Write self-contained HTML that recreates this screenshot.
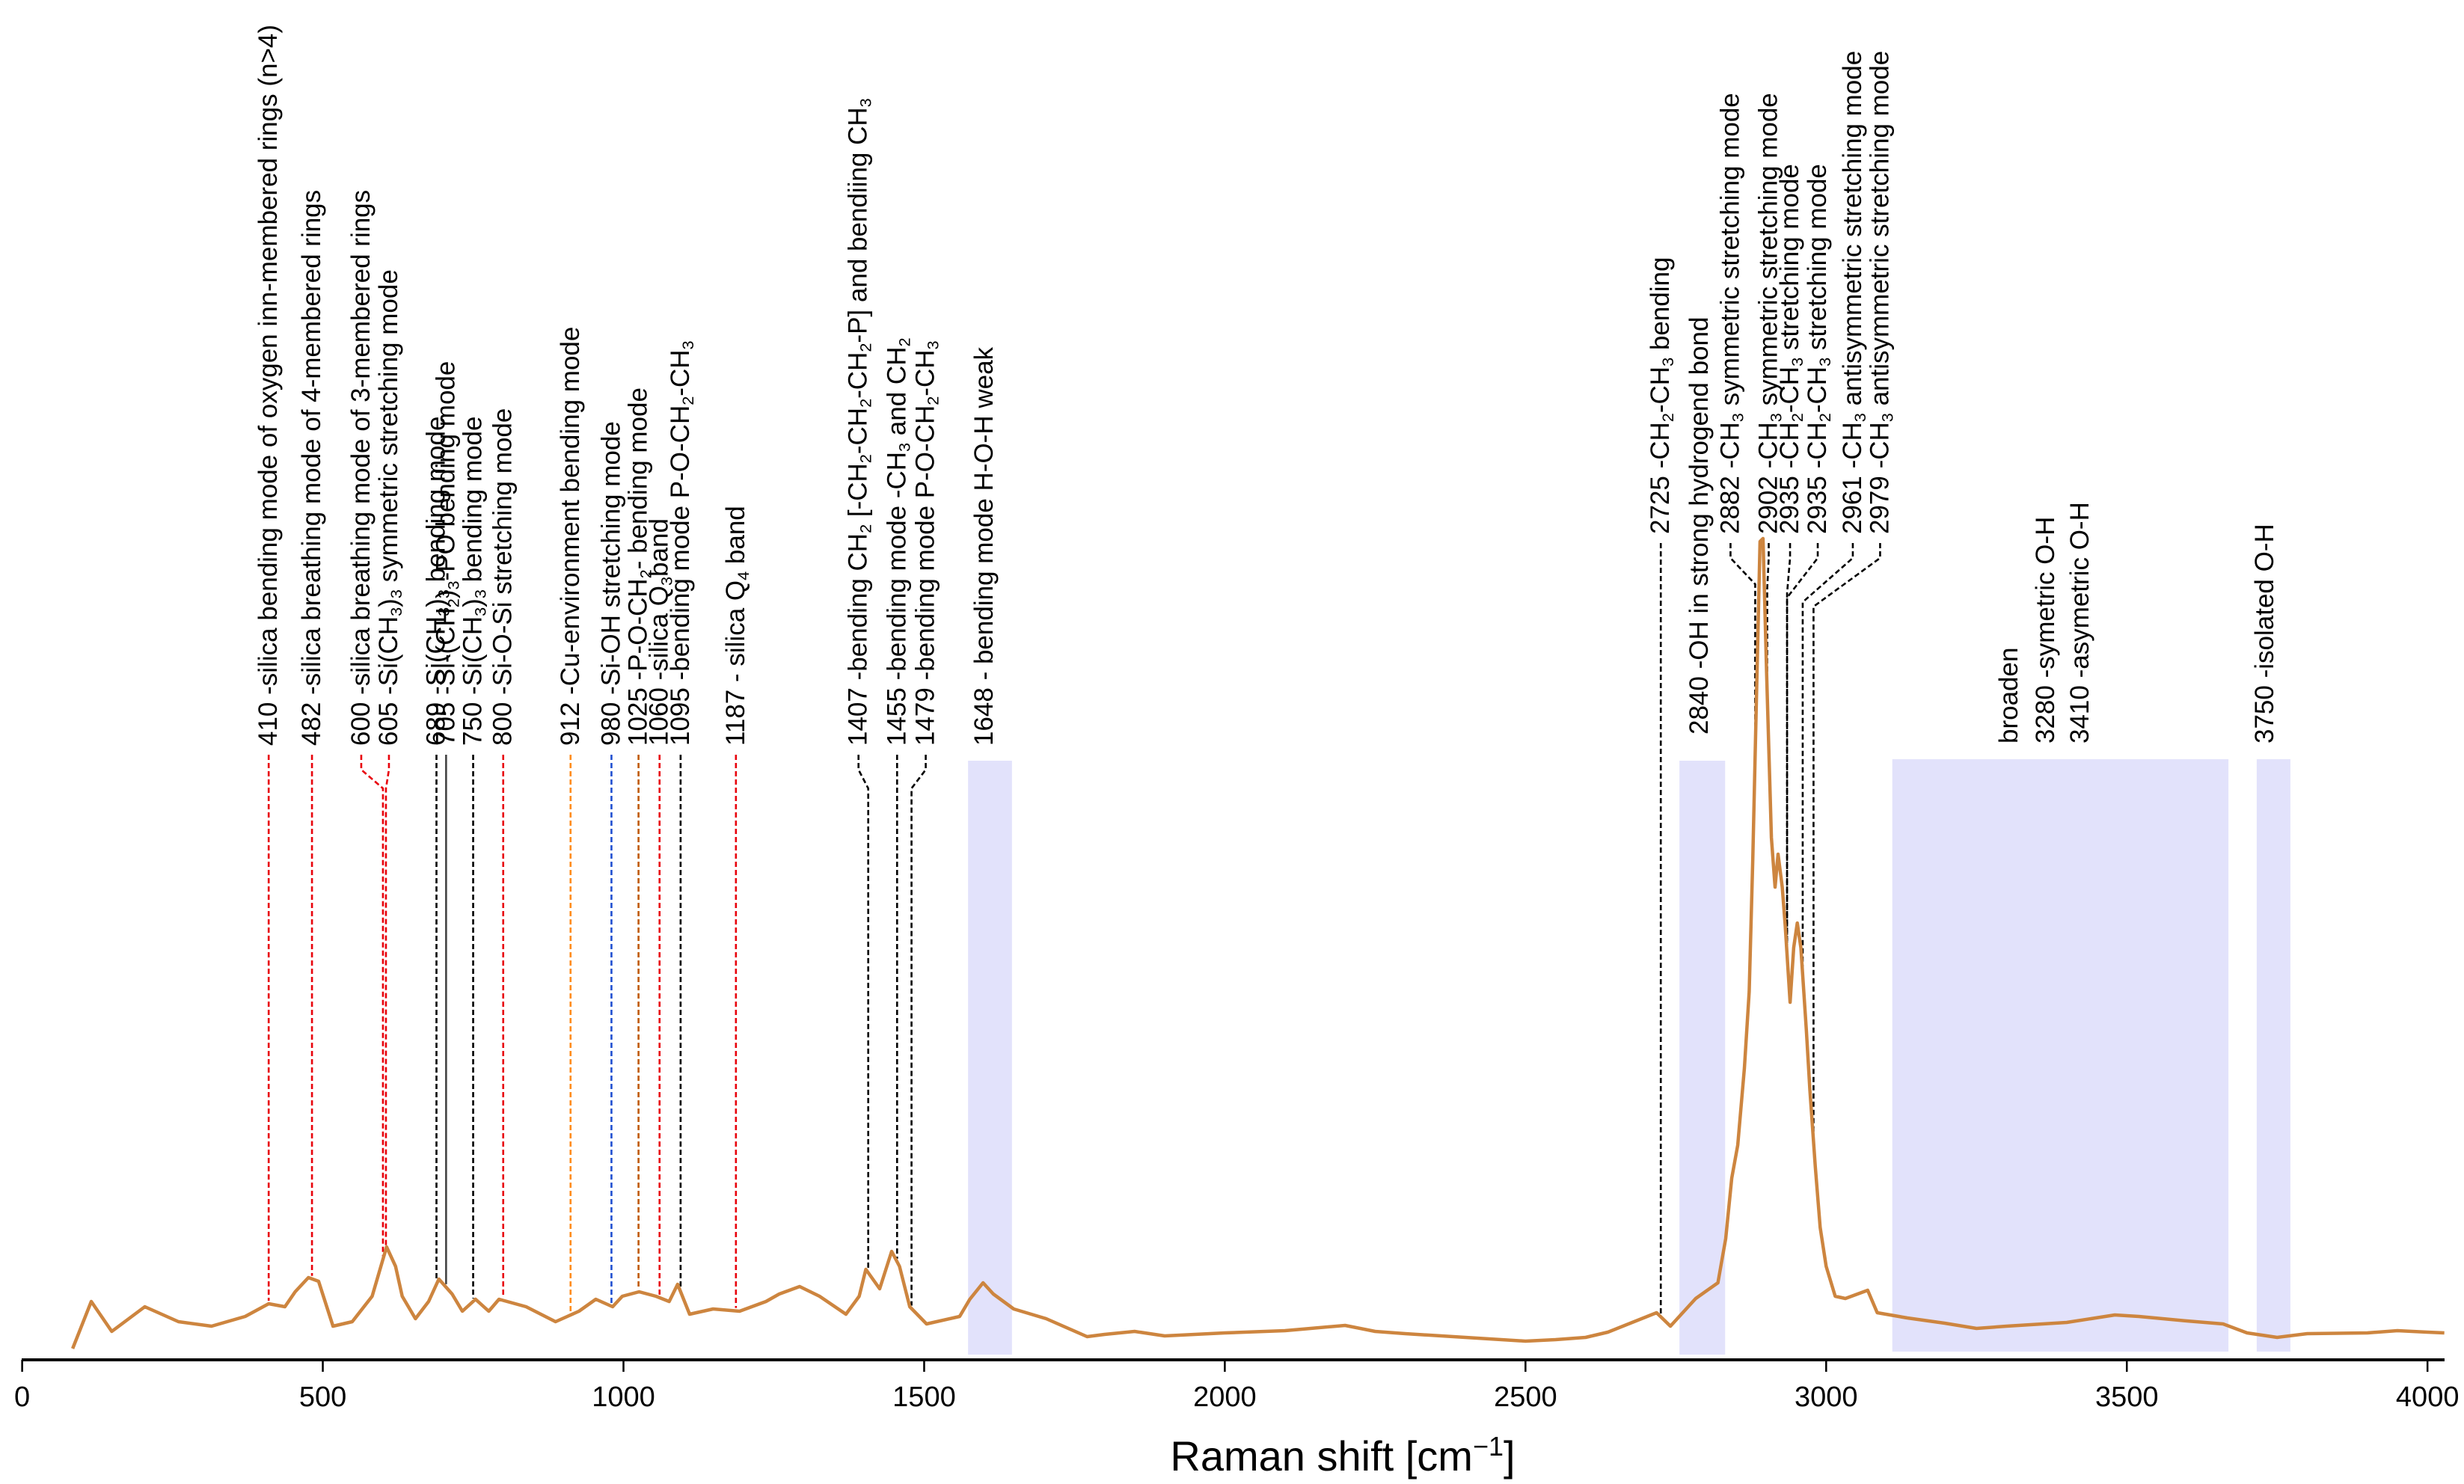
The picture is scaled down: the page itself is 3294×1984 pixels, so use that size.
<!DOCTYPE html>
<html><head><meta charset="utf-8"><style>
html,body{margin:0;padding:0;background:#fff}
svg{display:block;font-family:"Liberation Sans","DejaVu Sans",sans-serif}
</style></head><body>
<svg id="chart" width="3294" height="1984" viewBox="0 0 3294 1984" xmlns="http://www.w3.org/2000/svg"></svg>
<script>
// ---- data ----
const wavenumbers = [84,115,149,204,260,315,371,410,437,454,476,493,517,549,582,606,621,632,654,676,693,715,732,754,776,793,838,887,926,954,982,998,1026,1054,1076,1090,1110,1149,1193,1237,1259,1293,1326,1370,1392,1403,1426,1446,1459,1476,1504,1559,1576,1598,1615,1649,1703,1771,1800,1850,1900,2000,2100,2200,2250,2300,2400,2500,2550,2600,2637,2718,2741,2783,2820,2833,2843,2853,2864,2872,2878,2884,2890,2895,2901,2909,2915,2920,2927,2932,2940,2946,2952,2958,2967,2973,2982,2990,3000,3015,3032,3069,3085,3135,3197,3250,3300,3400,3480,3520,3600,3660,3700,3750,3800,3900,3950,4000,4028];
const intensity = [1.5,7.8,3.8,7.1,5.1,4.5,5.8,7.5,7.1,9.1,11.0,10.5,4.5,5.1,8.5,15.1,12.5,8.5,5.5,7.8,10.8,8.8,6.5,8.1,6.5,8.1,7.1,5.1,6.5,8.1,7.1,8.5,9.1,8.5,7.8,10.1,6.1,6.8,6.5,7.8,8.8,9.8,8.5,6.1,8.5,12.1,9.5,14.5,12.5,7.1,4.8,5.8,8.1,10.3,8.8,6.8,5.5,3.1,3.4,3.8,3.2,3.6,3.9,4.6,3.8,3.5,3.0,2.5,2.7,3.0,3.7,6.3,4.5,8.2,10.3,16.2,24.3,28.7,39,49.2,66.9,88,109.4,109.8,91.8,69.8,63.2,67.6,63.2,58,47.8,55.1,58.4,55.1,44.1,36,25.8,17.7,12.5,8.5,8.2,9.3,6.3,5.6,4.9,4.2,4.5,5.0,6.0,5.8,5.2,4.8,3.6,3.0,3.5,3.6,3.9,3.7,3.6];
const xTicks = [0,500,1000,1500,2000,2500,3000,3500,4000];
const bandStarts = [1573,2756,3110,3716];
const bandEnds = [1646,2832,3669,3772];
// annotations: wavenumber of line, label
const annWn = [410,482,600,605,689,705,750,800,912,980,1025,1060,1095,1187,1407,1455,1479,2725,2882,2902,2935,2935,2961,2979];
const annTopShift = [0,0,-29,4,0,0,0,0,0,0,0,0,0,0,-13,0,19,0,-33,2,4,41,67,89];
const annLabels = [
 '410 -silica bending mode of oxygen inn-membered rings (n>4)',
 '482 -silica breathing mode of 4-membered rings',
 '600 -silica breathing mode of 3-membered rings',
 '605 -Si(CH<sub>3</sub>)<sub>3</sub> symmetric stretching mode',
 '689 -Si(CH<sub>3</sub>)<sub>3</sub> bending mode',
 '705 -Si-(CH<sub>2</sub>)<sub>3</sub>-PO bending mode',
 '750 -Si(CH<sub>3</sub>)<sub>3</sub> bending mode',
 '800 -Si-O-Si stretching mode',
 '912 -Cu-environment bending mode',
 '980 -Si-OH stretching mode',
 '1025 -P-O-CH<sub>2</sub>- bending mode',
 '1060 -silica Q<sub>3</sub>band',
 '1095 -bending mode P-O-CH<sub>2</sub>-CH<sub>3</sub>',
 '1187 - silica Q<sub>4</sub> band',
 '1407 -bending CH<sub>2</sub> [-CH<sub>2</sub>-CH<sub>2</sub>-CH<sub>2</sub>-P] and  bendiing CH<sub>3</sub>',
 '1455 -bending mode -CH<sub>3</sub> and CH<sub>2</sub>',
 '1479 -bending mode P-O-CH<sub>2</sub>-CH<sub>3</sub>',
 '2725 -CH<sub>2</sub>-CH<sub>3</sub> bending',
 '2882 -CH<sub>3</sub> symmetric stretching mode',
 '2902 -CH<sub>3</sub> symmetric stretching mode',
 '2935 -CH<sub>2</sub>-CH<sub>3</sub> stretching mode',
 '2935 -CH<sub>2</sub>-CH<sub>3</sub> stretching mode',
 '2961 -CH<sub>3</sub>  antisymmetric stretching mode',
 '2979 -CH<sub>3</sub>  antisymmetric stretching mode'];
const annColors = ['#e8000b','#e8000b','#e8000b','#e8000b','#000','#444','#000','#e8000b','#ff8c1a','#1f4fd0','#c05a00','#e8000b','#000','#e8000b','#000','#000','#000','#000','#000','#000','#000','#000','#000','#000'];
const annTextBottom = [997,997,997,997,997,997,997,997,997,997,997,997,997,997,997,997,997,714,714,714,714,714,714,714];
const textOnly = [['1648 - bending mode H-O-H weak',1316,997],['2840 -OH in strong hydrogend bond',2272,982],['broaden',2686,994],['3280 -symetric O-H',2735,994],['3410 -asymetric O-H',2781,994],['3750 -isolated O-H',3028,994]];

// ---- scales ----
const X0=29.6, KX=0.8039, Y0=1818, KY=10;
const xs = w => X0 + KX*w;
const ys = v => Y0 - KY*v;
const FS = 35;
const NS='http://www.w3.org/2000/svg';
const svg=document.getElementById('chart');
function mk(tag,attrs,parent){const e=document.createElementNS(NS,tag);for(const k in attrs)e.setAttribute(k,attrs[k]);(parent||svg).appendChild(e);return e;}
function curveAt(w){for(let i=1;i<wavenumbers.length;i++){if(wavenumbers[i]>=w){const a=wavenumbers[i-1],b=wavenumbers[i];const t=(w-a)/(b-a);return intensity[i-1]+t*(intensity[i]-intensity[i-1]);}}return intensity[intensity.length-1];}
function richText(g,str,x,y,fs){
  const t=mk('text',{x:0,y:0,'font-size':fs,fill:'#000',transform:`translate(${x},${y}) rotate(-90)`},g);
  const parts=str.split(/(<sub>.*?<\/sub>)/);
  parts.forEach(p=>{if(!p)return;const m=p.match(/<sub>(.*?)<\/sub>/);
    const s=mk('tspan',m?{'font-size':fs*0.62,'baseline-shift':'-25%'}:{},t);s.textContent=m?m[1]:p;});
  return t;
}

// bands
const gb=mk('g',{});


const bandTop=[1017,1017,1015,1015], bandBot=[1811,1811,1807,1807];
bandStarts.forEach((s,i)=>{const r=mk('rect',{x:xs(s),y:bandTop[i],width:xs(bandEnds[i])-xs(s),height:bandBot[i]-bandTop[i],fill:'#e2e2fb'},gb);

});

// annotation lines + labels
const ga=mk('g',{});


annWn.forEach((w,i)=>{
  const xb=xs(w), xt=xb+annTopShift[i];
  const y0=annTextBottom[i]+12, yb=ys(curveAt(w))-4;
  const bend = (annTextBottom[i]>900)? [y0+20,y0+45] : [y0+20,y0+55+ (i-18)*6];
  const d=`M${xt},${y0} L${xt},${bend[0]} L${xb},${bend[1]} L${xb},${yb}`;
  const p=mk('path',{d,fill:'none',stroke:annColors[i],'stroke-width':2.6,'stroke-dasharray':i===5?'none':'7,4'},ga);
  
  
  const t=richText(ga,annLabels[i],xt+11,annTextBottom[i],FS);
  
  
});
textOnly.forEach(a=>{const t=richText(ga,a[0],a[1]+11,a[2],FS);
  
  });

// spectrum
const pts=wavenumbers.map((w,i)=>xs(w).toFixed(1)+','+ys(intensity[i]).toFixed(1)).join(' ');
const line=mk('polyline',{points:pts,fill:'none',stroke:'#cd853f','stroke-width':4.5,'stroke-linejoin':'round'});



// axis
const gx=mk('g',{});


mk('line',{x1:29,x2:3268,y1:Y0,y2:Y0,stroke:'#000','stroke-width':4},gx);
xTicks.forEach(v=>{
  const tk=mk('line',{x1:xs(v),x2:xs(v),y1:Y0,y2:Y0+16,stroke:'#000','stroke-width':2.5},gx);
  
  
  const t=mk('text',{x:xs(v),y:Y0+62,'font-size':38,'text-anchor':'middle',fill:'#000'},gx);
  t.textContent=v;
  
  
});
const title=mk('text',{x:1795,y:1966,'font-size':56,'text-anchor':'middle',fill:'#000'},gx);


title.innerHTML='Raman shift [cm<tspan font-size="36" baseline-shift="super">−1</tspan>]';
</script>
</body></html>
